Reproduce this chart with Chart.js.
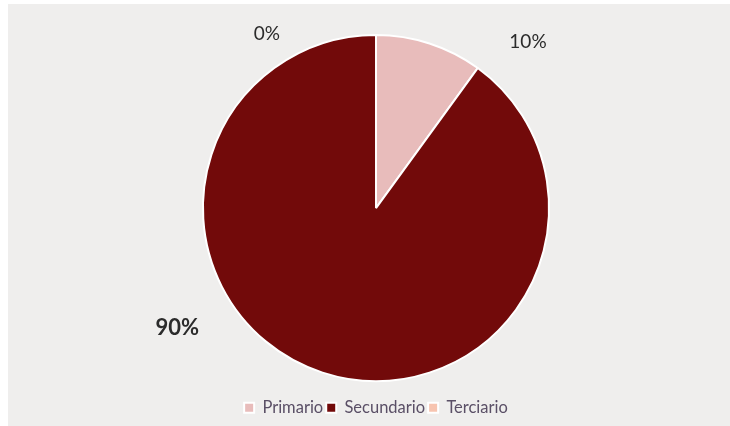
<!DOCTYPE html>
<html>
<head>
<meta charset="utf-8">
<script src="https://cdn.jsdelivr.net/npm/chart.js@4"></script>
<style>
html,body{margin:0;padding:0;background:#fff;}
#box{position:absolute;left:8px;top:4px;width:722px;height:422px;background:#efeeed;}
</style>
</head>
<body>
<div id="box"><canvas id="piechart"></canvas></div>
<script>
var sectores = ["Primario", "Secundario", "Terciario"]
var porcentajes = [10, 90, 0]
var etiquetas = ["10%", "90%", "0%"]
var colores = ["#e8bcbb", "#720a0a", "#f7c4b0"]

// where each percent label sits: angle from top (deg, clockwise), distance in radii, font
var etiquetaPos = [
    {ang: 42.5, dist: 1.30, size: 19, bold: false},
    {ang: -121, dist: 1.34, size: 22, bold: true},
    {ang: -32, dist: 1.19, size: 19, bold: false}
]

var labelplugin = {
    id: 'pctlabels',
    afterDatasetsDraw: function (chart) {
        var ctx = chart.ctx
        var arc = chart.getDatasetMeta(0).data[0]
        var cx = arc.x, cy = arc.y, r = arc.outerRadius
        ctx.save()
        ctx.fillStyle = "#2b2b2b"
        ctx.textAlign = "center"
        ctx.textBaseline = "middle"
        for (var i = 0; i < etiquetas.length; i++) {
            var p = etiquetaPos[i]
            var a = p.ang * Math.PI / 180
            ctx.font = (p.bold ? "bold " : "") + p.size + "px Lato"
            ctx.fillText(etiquetas[i], cx + Math.sin(a) * r * p.dist, cy - Math.cos(a) * r * p.dist)
        }
        ctx.restore()
    }
}

var ctx = document.getElementById("piechart").getContext("2d")
var piechart = new Chart(ctx, {
    type: 'pie',
    data: {
        labels: sectores,
        datasets: [{
            data: porcentajes,
            backgroundColor: colores,
            borderColor: "#ffffff",
            borderWidth: 2
        }]
    },
    options: {
        responsive: true,
        maintainAspectRatio: false,
        animation: false,
        layout: {padding: {top: 30, left: 14, bottom: 0}},
        plugins: {
            tooltip: {enabled: false},
            legend: {
                position: 'bottom',
                title: {display: true, text: ' ', padding: 6, font: {size: 2}},
                labels: {
                    boxWidth: 10,
                    boxHeight: 10,
                    padding: 3,
                    color: "#5a4f66",
                    font: {family: "Lato", size: 16.5}
                }
            }
        }
    },
    plugins: [labelplugin]
})
</script>
</body>
</html>
